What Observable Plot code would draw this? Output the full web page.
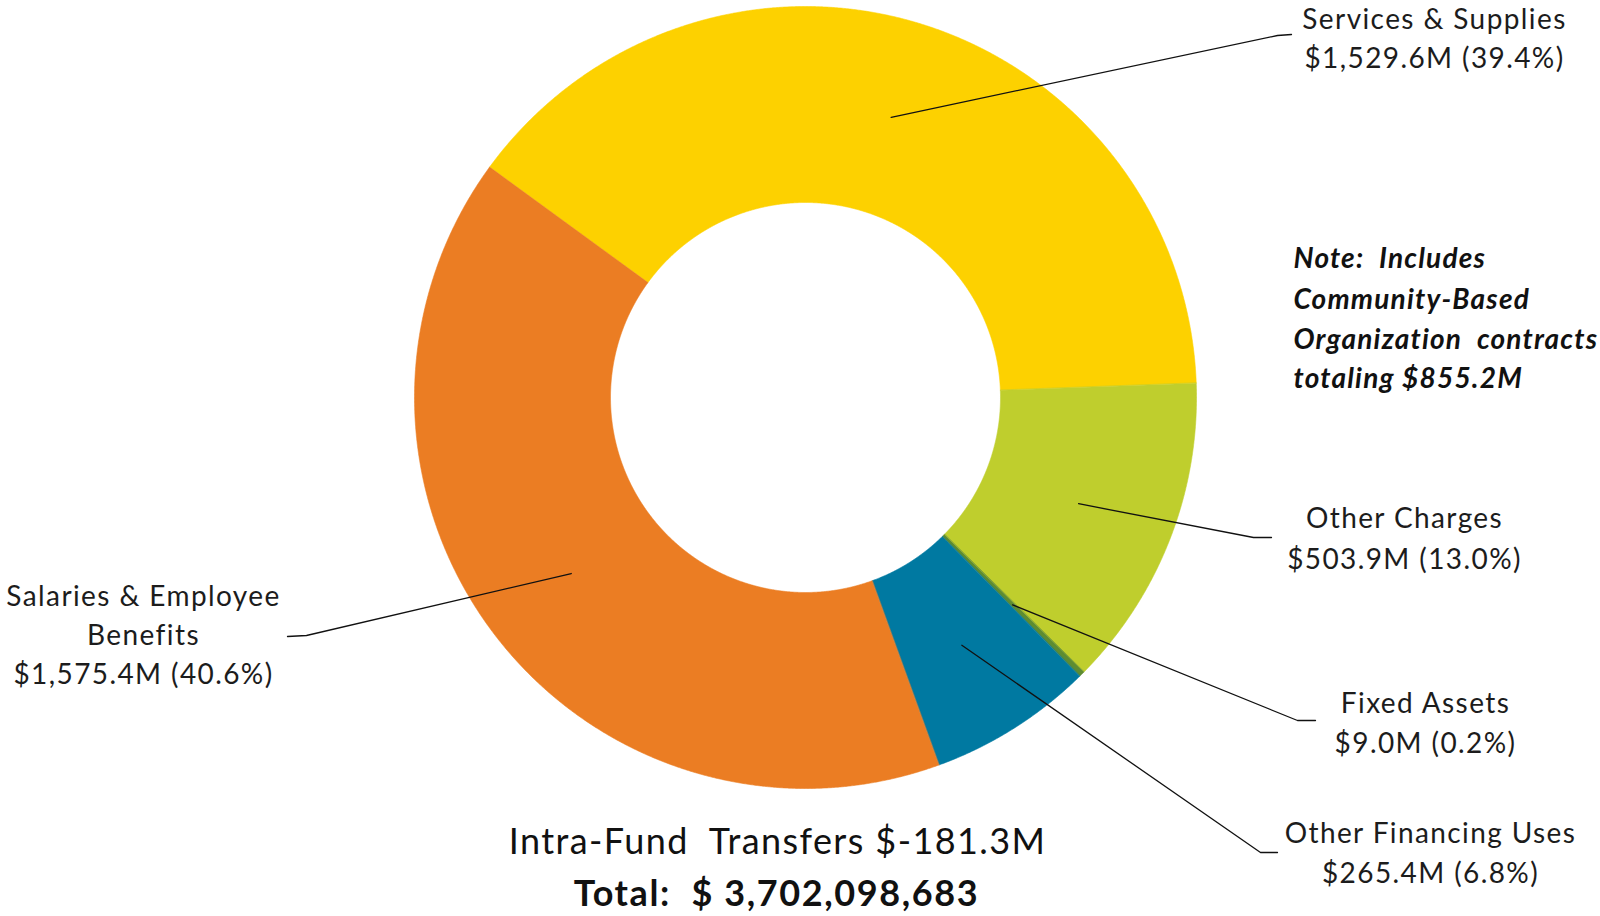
<!DOCTYPE html>
<html><head><meta charset="utf-8">
<script src="https://cdn.jsdelivr.net/npm/d3@7"></script>
<script src="https://cdn.jsdelivr.net/npm/@observablehq/plot@0.6"></script>
<style>html,body{margin:0;padding:0;background:#fff;overflow:hidden} #chart svg{display:block}</style>
</head><body><div id="chart"></div>
<script>
// ---- data ----
const categories = ["Services & Supplies", "Other Charges", "Fixed Assets", "Other Financing Uses", "Salaries & Employee Benefits"];
const values = [1529.6, 503.9, 9.0, 265.4, 1575.4]; // $M
const colors = ["#FDD100", "#BFCE2D", "#5E8C31", "#0079A1", "#EB7D23"];
const labelNames = [["Services & Supplies"], ["Other Charges"], ["Fixed Assets"], ["Other Financing Uses"], ["Salaries & Employee", "Benefits"]];
const noteLines = ["Note:  Includes", "Community-Based", "Organization  contracts", "totaling $855.2M"];
const intraFund = "Intra-Fund  Transfers $-181.3M";
const totalText = "Total:  $ 3,702,098,683";

// ---- layout ----
const W = 1600, H = 916, CX = 805, CY = 397, R_OUT = 391, R_IN = 195, START = -53.9;
const FONT = "Lato, 'Open Sans', sans-serif";
const labelLayout = [
  {x: 1434, y0: 28, step: 39, elbow: [1277, 35], end: [1291, 34]},
  {x: 1404, y0: 527, step: 41, elbow: [1253, 537], end: [1271, 537]},
  {x: 1425, y0: 712, step: 40, elbow: [1297, 720], end: [1315, 720]},
  {x: 1430, y0: 842, step: 40, elbow: [1260, 852], end: [1277, 852]},
  {x: 143, y0: 605, step: 39, elbow: [306, 635], end: [287, 636]}
];
const LABEL_FS = 28, NOTE_FS = 28, BOT_FS = 36;

const total = d3.sum(values);
let acc = START;
const slices = categories.map((name, i) => {
  const span = values[i] / total * 360;
  const s = {name, a0: acc, a1: acc + span, value: values[i], share: values[i] / total};
  acc += span;
  return s;
});
const pt = (a, rho) => ({x: CX + rho * Math.sin(a * Math.PI / 180), y: CY - rho * Math.cos(a * Math.PI / 180)});

const ringPts = [];
for (const s of slices) {
  const n = Math.max(2, Math.ceil((s.a1 - s.a0) / 0.2));
  for (let k = 0; k <= n; k++) ringPts.push({name: s.name, ...pt(s.a0 + (s.a1 - s.a0) * k / n, R_OUT)});
  for (let k = n; k >= 0; k--) ringPts.push({name: s.name, ...pt(s.a0 + (s.a1 - s.a0) * k / n, R_IN)});
}

const fmtVal = v => "$" + d3.format(",.1f")(v) + "M";
const fmtPct = p => "(" + d3.format(".1f")(p * 100) + "%)";

const leaderPts = [];
const labelLines = [];
slices.forEach((s, i) => {
  const L = labelLayout[i];
  const c = pt((s.a0 + s.a1) / 2, (R_OUT + R_IN) / 2);
  leaderPts.push({name: s.name, ...c});
  leaderPts.push({name: s.name, x: L.elbow[0], y: L.elbow[1]});
  leaderPts.push({name: s.name, x: L.end[0], y: L.end[1]});
  const lines = [...labelNames[i], fmtVal(s.value) + " " + fmtPct(s.share)];
  lines.forEach((t, j) => labelLines.push({text: t, x: L.x, y: L.y0 + j * L.step - 0.32 * LABEL_FS}));
});

const noteData = noteLines.map((t, j) => ({text: t, x: 1293, y: [267, 308, 348, 387][j] - 0.32 * NOTE_FS}));
const bottomData = [{text: intraFund, x: 777, y: 853 - 0.32 * BOT_FS}];
const totalData = [{text: totalText, x: 776, y: 905 - 0.32 * BOT_FS}];

const chart = Plot.plot({
  width: W, height: H, margin: 0,
  style: {fontFamily: FONT, background: "#fff"},
  x: {domain: [0, W], range: [0, W], axis: null},
  y: {domain: [0, H], range: [0, H], axis: null},
  color: {domain: categories, range: colors},
  marks: [
    Plot.line(ringPts, {x: "x", y: "y", z: "name", fill: "name", stroke: "name", strokeWidth: 0.6, curve: "linear-closed"}),
    Plot.line(leaderPts, {x: "x", y: "y", z: "name", stroke: "#111", strokeWidth: 1.3}),
    Plot.text(labelLines, {x: "x", y: "y", text: "text", textAnchor: "middle", lineAnchor: "middle", fontSize: LABEL_FS, fill: "#1c1c1c", fontFamily: FONT}),
    Plot.text(noteData, {x: "x", y: "y", text: "text", textAnchor: "start", lineAnchor: "middle", fontSize: NOTE_FS, fontWeight: "bold", fontStyle: "italic", fill: "#111", fontFamily: FONT}),
    Plot.text(bottomData, {x: "x", y: "y", text: "text", textAnchor: "middle", lineAnchor: "middle", fontSize: BOT_FS, fill: "#111", fontFamily: FONT}),
    Plot.text(totalData, {x: "x", y: "y", text: "text", textAnchor: "middle", lineAnchor: "middle", fontSize: BOT_FS, fontWeight: "bold", fill: "#111", fontFamily: FONT})
  ]
});
// letter spacing per text mark (labels, note, intra-fund, total)
const spacing = ["1.4px", "1.2px", "1.4px", "1.6px"];
d3.select(chart).selectAll('g[aria-label="text"]').each(function(_, i) {
  d3.select(this).attr("letter-spacing", spacing[i] || null);
});
document.getElementById("chart").appendChild(chart);
</script>
</body></html>
